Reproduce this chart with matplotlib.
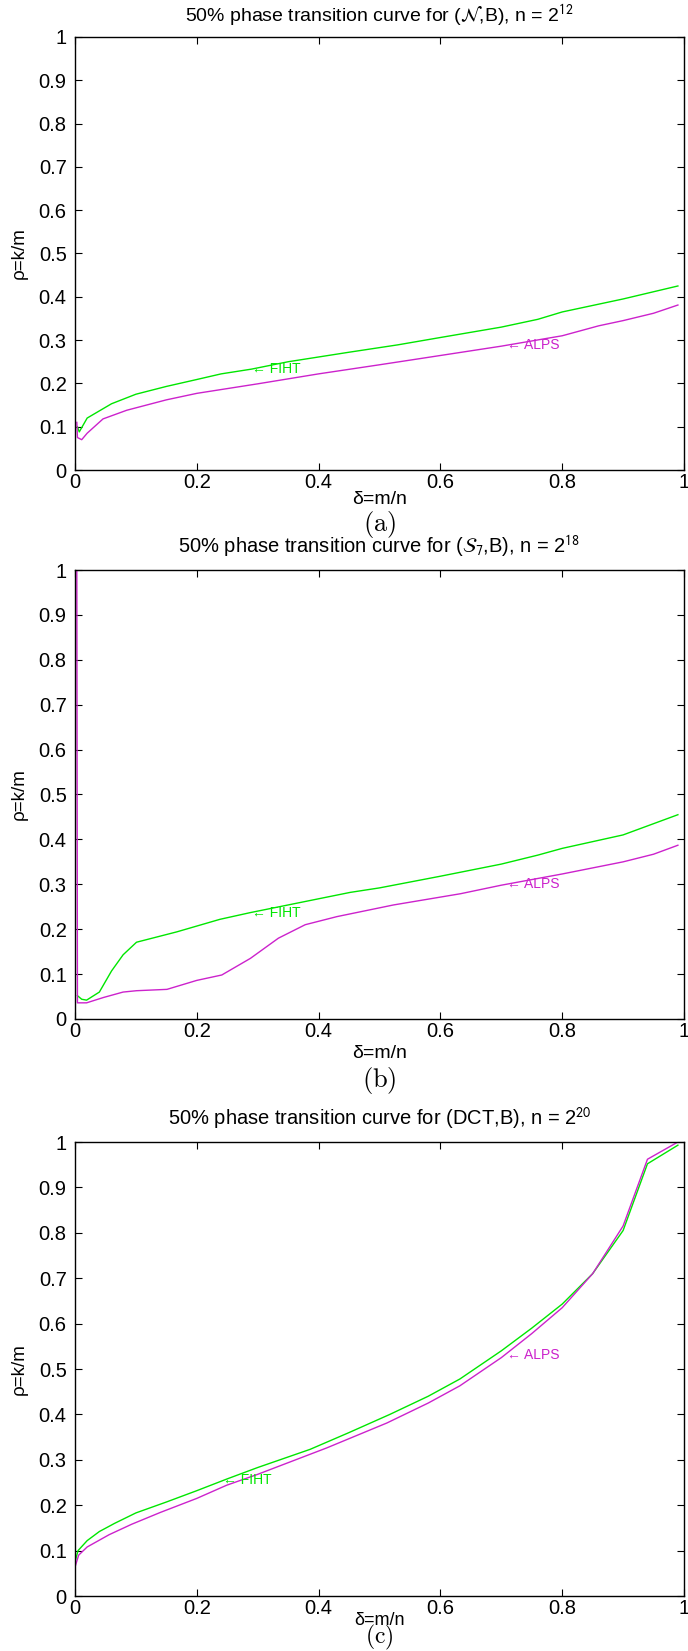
import numpy as np
import matplotlib.pyplot as plt

# 50% phase transition curves, delta = m/n against rho = k/m
delta_a_fiht = [0.004, 0.007, 0.02, 0.06, 0.1, 0.15, 0.2, 0.24, 0.29, 0.35, 0.45, 0.53, 0.6, 0.7, 0.76, 0.8, 0.9, 0.99]
rho_a_fiht = [0.10, 0.088, 0.12, 0.153, 0.175, 0.193, 0.209, 0.222, 0.233, 0.25, 0.272, 0.289, 0.306, 0.33, 0.348, 0.365, 0.395, 0.425]
delta_a_alps = [0.003, 0.004, 0.011, 0.02, 0.046, 0.085, 0.15, 0.2, 0.3, 0.4, 0.5, 0.57, 0.7, 0.8, 0.86, 0.9, 0.95, 0.99]
rho_a_alps = [0.11, 0.075, 0.07, 0.085, 0.118, 0.138, 0.162, 0.177, 0.199, 0.222, 0.243, 0.258, 0.286, 0.31, 0.333, 0.345, 0.362, 0.381]

delta_b_fiht = [0.004, 0.011, 0.019, 0.04, 0.06, 0.079, 0.101, 0.167, 0.238, 0.288, 0.452, 0.5, 0.6, 0.7, 0.76, 0.8, 0.9, 0.99]
rho_b_fiht = [0.052, 0.044, 0.042, 0.06, 0.107, 0.143, 0.171, 0.194, 0.222, 0.237, 0.282, 0.292, 0.318, 0.345, 0.365, 0.38, 0.41, 0.455]
delta_b_alps = [0.003, 0.004, 0.019, 0.047, 0.079, 0.101, 0.151, 0.2, 0.241, 0.288, 0.334, 0.378, 0.43, 0.523, 0.633, 0.7, 0.8, 0.9, 0.95, 0.99]
rho_b_alps = [1.0, 0.036, 0.036, 0.048, 0.06, 0.063, 0.066, 0.086, 0.098, 0.135, 0.18, 0.21, 0.228, 0.254, 0.279, 0.298, 0.323, 0.35, 0.367, 0.387]

delta_c_fiht = [0.001, 0.005, 0.02, 0.04, 0.065, 0.1, 0.15, 0.2, 0.25, 0.3, 0.386, 0.45, 0.517, 0.58, 0.632, 0.7, 0.75, 0.8, 0.85, 0.9, 0.94, 0.99]
rho_c_fiht = [0.08, 0.1, 0.122, 0.142, 0.16, 0.183, 0.207, 0.232, 0.258, 0.283, 0.323, 0.36, 0.4, 0.44, 0.478, 0.54, 0.59, 0.643, 0.71, 0.805, 0.952, 0.993]
delta_c_alps = [0.001, 0.006, 0.02, 0.056, 0.093, 0.14, 0.2, 0.249, 0.3, 0.413, 0.512, 0.58, 0.632, 0.7, 0.75, 0.8, 0.85, 0.9, 0.94, 0.99]
rho_c_alps = [0.068, 0.09, 0.108, 0.135, 0.158, 0.184, 0.215, 0.244, 0.268, 0.326, 0.381, 0.425, 0.463, 0.525, 0.578, 0.635, 0.71, 0.815, 0.962, 1.0]

titles = ['50% phase transition curve for ($\\mathcal{N}$,B), n = 2$^{12}$',
          '50% phase transition curve for ($\\mathcal{S}_7$,B), n = 2$^{18}$',
          '50% phase transition curve for (DCT,B), n = 2$^{20}$']
captions = ['(a)', '(b)', '(c)']
# where the "<- FIHT" / "<- ALPS" labels point
fiht_at = [(0.29, 0.233), (0.29, 0.235), (0.243, 0.256)]
alps_at = [(0.71, 0.289), (0.71, 0.30), (0.71, 0.53)]

GREEN = '#00e600'
MAGENTA = '#cc22cc'
W, H = 688, 1651

plt.rcParams['font.family'] = ['Liberation Sans', 'DejaVu Sans']

fig = plt.figure(figsize=(W / 100, H / 100), dpi=100)

# axes boxes in pixels: left, top, right, bottom
boxes = [(75, 37, 684, 470), (75, 570, 684, 1019), (75, 1142, 684, 1596)]
title_y = [16, 547, 1119]
title_size = [14, 14.5, 14.5]
xlabel_y = [499, 1054, 1620]
xlabel_size = [14, 14, 13]
caption_y = [524, 1080, 1637]
caption_size = [19, 19, 17]

curves = [(delta_a_fiht, rho_a_fiht, delta_a_alps, rho_a_alps),
          (delta_b_fiht, rho_b_fiht, delta_b_alps, rho_b_alps),
          (delta_c_fiht, rho_c_fiht, delta_c_alps, rho_c_alps)]

for i, (l, t, r, b) in enumerate(boxes):
    ax = fig.add_axes([l / W, 1 - b / H, (r - l) / W, (b - t) / H])
    df, rf, da, ra = curves[i]
    ax.plot(df, rf, color=GREEN, lw=1.0)
    ax.plot(da, ra, color=MAGENTA, lw=1.0)
    ax.text(fiht_at[i][0], fiht_at[i][1], '\u2190 FIHT', color=GREEN, fontsize=10,
            ha='left', va='center')
    ax.text(alps_at[i][0], alps_at[i][1], '\u2190 ALPS', color=MAGENTA, fontsize=10,
            ha='left', va='center')

    ax.set_xlim(0, 1)
    ax.set_ylim(0, 1)
    ax.set_xticks(np.arange(0, 1.01, 0.2))
    ax.set_xticklabels(['0', '0.2', '0.4', '0.6', '0.8', '1'])
    ax.set_yticks(np.arange(0, 1.01, 0.1))
    ax.set_yticklabels(['0'] + ['%.1f' % v for v in np.arange(0.1, 0.95, 0.1)] + ['1'])
    ax.tick_params(direction='in', length=5, width=0.8, labelsize=14.5,
                   top=True, right=True)
    ax.tick_params(axis='x', pad=2)
    ax.tick_params(axis='y', pad=6)
    for s in ax.spines.values():
        s.set_linewidth(1.0)

    cx = 0.5 * (l + r) / W
    fig.text(cx, 1 - title_y[i] / H, titles[i], fontsize=title_size[i],
             ha='center', va='center', math_fontfamily='stixsans')
    fig.text(cx, 1 - xlabel_y[i] / H, '\u03b4=m/n', fontsize=xlabel_size[i],
             ha='center', va='center')
    fig.text(19 / W, 1 - 0.5 * (t + b) / H, '\u03c1=k/m', fontsize=13.5,
             rotation=90, ha='center', va='center')
    fig.text(cx, 1 - caption_y[i] / H, '$\\mathrm{' + captions[i] + '}$',
             fontsize=caption_size[i], ha='center', va='center', math_fontfamily='cm')

fig.savefig('out.png', dpi=100)
